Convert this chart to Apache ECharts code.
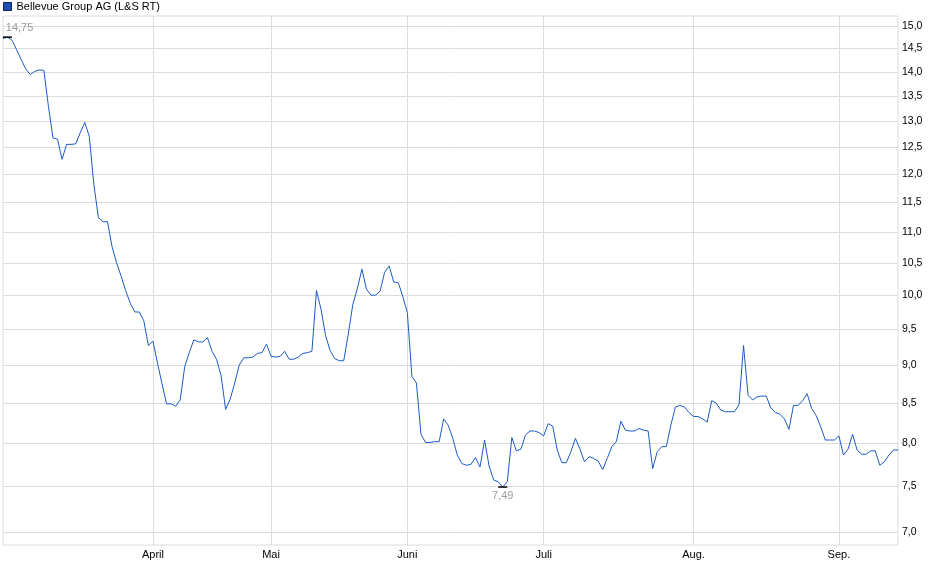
<!DOCTYPE html>
<html lang="de">
<head>
    <meta charset="UTF-8">
    <title>Bellevue Group AG (L&amp;S RT)</title>
    <style>
        html, body { margin: 0; padding: 0; background: #fff; }
        #chart { width: 940px; height: 579px; }
    </style>
    <script src="https://cdn.jsdelivr.net/npm/echarts@6/dist/echarts.min.js"></script>
</head>
<body>
    <div id="chart"></div>
    <script>
        // Kurs je Handelstag (EUR)
        var prices = [
            14.72, 14.75, 14.68, 14.47, 14.26, 14.06, 13.94, 14.01, 14.04, 14.03,
            13.29, 12.67, 12.65, 12.27, 12.55, 12.55, 12.56, 12.77, 12.97, 12.70,
            11.81, 11.24, 11.17, 11.17, 10.76, 10.50, 10.29, 10.07, 9.88, 9.75,
            9.75, 9.62, 9.27, 9.33, 9.03, 8.75, 8.49, 8.49, 8.46, 8.54,
            8.98, 9.17, 9.35, 9.32, 9.32, 9.38, 9.19, 9.08, 8.86, 8.42,
            8.55, 8.76, 9.00, 9.10, 9.10, 9.11, 9.16, 9.17, 9.29, 9.12,
            9.11, 9.12, 9.19, 9.08, 9.08, 9.11, 9.16, 9.17, 9.19, 10.07,
            9.79, 9.41, 9.20, 9.09, 9.06, 9.06, 9.43, 9.86, 10.10, 10.40,
            10.09, 10.00, 10.00, 10.06, 10.35, 10.45, 10.20, 10.19, 9.98, 9.74,
            8.85, 8.76, 8.11, 8.01, 8.01, 8.02, 8.02, 8.30, 8.22, 8.06,
            7.86, 7.76, 7.74, 7.75, 7.83, 7.72, 8.04, 7.73, 7.57, 7.55,
            7.49, 7.55, 8.07, 7.91, 7.93, 8.10, 8.15, 8.15, 8.13, 8.09,
            8.24, 8.21, 7.92, 7.77, 7.77, 7.90, 8.06, 7.93, 7.78, 7.84,
            7.82, 7.79, 7.69, 7.82, 7.96, 8.02, 8.27, 8.16, 8.15, 8.15,
            8.18, 8.16, 8.15, 7.70, 7.90, 7.96, 7.96, 8.22, 8.45, 8.47,
            8.45, 8.38, 8.33, 8.33, 8.30, 8.26, 8.53, 8.50, 8.41, 8.39,
            8.39, 8.39, 8.48, 9.27, 8.60, 8.54, 8.58, 8.59, 8.59, 8.44,
            8.38, 8.36, 8.30, 8.17, 8.47, 8.47, 8.53, 8.62, 8.43, 8.34,
            8.20, 8.04, 8.04, 8.04, 8.09, 7.86, 7.93, 8.11, 7.92, 7.87,
            7.87, 7.91, 7.91, 7.74, 7.78, 7.86, 7.92, 7.92
        ];

        // Monatsanfang: Index des Handelstags + Beschriftung
        var monthIndex = [33, 59, 89, 119, 152, 184];
        var monthLabels = ['April', 'Mai', 'Juni', 'Juli', 'Aug.', 'Sep.'];

        // Kursachse (logarithmisch)
        var yTicks = [7.0, 7.5, 8.0, 8.5, 9.0, 9.5, 10.0, 10.5, 11.0, 11.5,
                      12.0, 12.5, 13.0, 13.5, 14.0, 14.5, 15.0];

        var days = prices.map(function (p, i) { return i; });

        var font = 'Liberation Sans, Arial, sans-serif';
        var gridColor = '#dcdcdc';
        var lineColor = '#1c5ac4';

        function isMonth(index) {
            return monthIndex.indexOf(index) !== -1;
        }
        function deNum(v, digits) {
            return v.toFixed(digits).replace('.', ',');
        }

        var myChart = echarts.init(document.getElementById('chart'));
        var option = {
            animation: false,
            textStyle: { fontFamily: font },
            legend: {
                left: 3,
                top: 1,
                padding: 0,
                icon: 'rect',
                itemWidth: 8,
                itemHeight: 8,
                itemGap: 4,
                textStyle: { fontSize: 11, color: '#000', fontFamily: font },
                itemStyle: { color: '#1d4fae', borderColor: '#0b2260', borderWidth: 1 },
                data: ['Bellevue Group AG (L&S RT)']
            },
            grid: {
                left: 3,
                right: 42,
                top: 16,
                bottom: 34,
                show: true,
                borderColor: gridColor,
                borderWidth: 1
            },
            xAxis: {
                type: 'category',
                data: days,
                boundaryGap: false,
                axisLine: { show: false },
                axisTick: { show: false },
                axisLabel: {
                    interval: function (index) { return isMonth(index); },
                    formatter: function (v, index) {
                        var k = monthIndex.indexOf(index);
                        return k === -1 ? '' : monthLabels[k];
                    },
                    margin: 4,
                    fontSize: 11,
                    color: '#000',
                    fontFamily: font
                },
                splitLine: {
                    show: true,
                    interval: function (index) { return isMonth(index); },
                    lineStyle: { color: gridColor, width: 1 }
                }
            },
            yAxis: {
                type: 'log',
                position: 'right',
                min: 6.864,
                max: 15.227,
                axisLine: { show: false },
                axisTick: { show: false, customValues: yTicks },
                axisLabel: {
                    customValues: yTicks,
                    margin: 4,
                    fontSize: 10.5,
                    color: '#000',
                    fontFamily: font,
                    formatter: function (v) { return deNum(v, 1); }
                },
                splitLine: {
                    show: true,
                    lineStyle: { color: gridColor, width: 1 }
                }
            },
            series: [
                {
                    name: 'Bellevue Group AG (L&S RT)',
                    type: 'line',
                    data: prices,
                    symbol: 'none',
                    lineStyle: { color: lineColor, width: 1 },
                    itemStyle: { color: lineColor },
                    markPoint: {
                        symbol: 'rect',
                        symbolSize: [9, 1.5],
                        itemStyle: { color: '#000' },
                        label: {
                            show: true,
                            color: '#9c9c9c',
                            fontSize: 11,
                            fontFamily: font,
                            formatter: function (p) { return deNum(p.value, 2); }
                        },
                        data: [
                            { type: 'max', label: { position: 'top', distance: 3, offset: [12, 0] } },
                            { type: 'min', label: { position: 'bottom', distance: 3 } }
                        ]
                    }
                }
            ]
        };
        myChart.setOption(option);
    </script>
</body>
</html>
